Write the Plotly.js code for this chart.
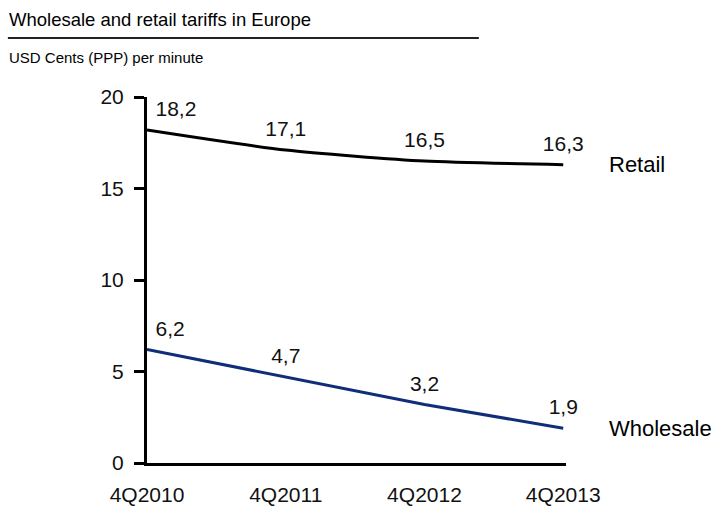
<!DOCTYPE html>
<html>
<head>
<meta charset="utf-8">
<script src="https://cdn.plot.ly/plotly-3.0.1.min.js"></script>
<style>html,body{margin:0;padding:0;background:#fff;}#chart{width:714px;height:508px;}</style>
</head>
<body>
<div id="chart"></div>
<script>
var categories = ['4Q2010', '4Q2011', '4Q2012', '4Q2013'];
var retail = [18.2, 17.1, 16.5, 16.3];
var wholesale = [6.2, 4.7, 3.2, 1.9];
var retailLabels = ['18,2', '17,1', '16,5', '16,3'];
var wholesaleLabels = ['6,2', '4,7', '3,2', '1,9'];
var seriesNames = ['Retail', 'Wholesale'];
var yTicks = [0, 5, 10, 15, 20];

var sans = 'Liberation Sans, Arial, sans-serif';
var numFont = {family: sans, size: 21, color: '#111'};
var labelPos = ['top right', 'top center', 'top center', 'top center'];

var traces = [
  {x: categories, y: retail, name: seriesNames[0], mode: 'lines+markers+text', text: retailLabels,
   textposition: labelPos, textfont: numFont, cliponaxis: false,
   marker: {size: 12, color: 'rgba(0,0,0,0)'},
   line: {color: '#000000', width: 3, shape: 'spline', smoothing: 0.6}, hoverinfo: 'skip'},
  {x: categories, y: wholesale, name: seriesNames[1], mode: 'lines+markers+text', text: wholesaleLabels,
   textposition: labelPos, textfont: numFont, cliponaxis: false,
   marker: {size: 12, color: 'rgba(0,0,0,0)'},
   line: {color: '#0f2d78', width: 3, shape: 'linear'}, hoverinfo: 'skip'}
];

var layout = {
  width: 714, height: 508,
  margin: {l: 147, r: 148, t: 97, b: 45},
  paper_bgcolor: '#ffffff', plot_bgcolor: '#ffffff',
  showlegend: false,
  font: numFont,
  xaxis: {
    type: 'category', range: [0, 3.02], showgrid: false, zeroline: false,
    showline: true, linecolor: '#000', linewidth: 3, ticks: '',
    tickfont: numFont, ticklabelstandoff: 11, fixedrange: true
  },
  yaxis: {
    range: [0, 20], tickvals: yTicks, showgrid: false, zeroline: false,
    showline: true, linecolor: '#000', linewidth: 3,
    ticks: 'outside', ticklen: 10, tickwidth: 3, tickcolor: '#000',
    tickfont: numFont, ticklabelstandoff: 6, fixedrange: true
  },
  shapes: [
    {type: 'line', xref: 'paper', yref: 'paper', x0: -0.332, x1: 0.792, y0: 1.161, y1: 1.161,
     line: {color: '#222', width: 2}}
  ],
  annotations: [
    {xref: 'paper', yref: 'paper', x: -0.334, y: 1.212, xanchor: 'left', yanchor: 'middle',
     text: 'Wholesale and retail tariffs in Europe', showarrow: false,
     font: {family: sans, size: 18.5, color: '#000'}},
    {xref: 'paper', yref: 'paper', x: -0.334, y: 1.109, xanchor: 'left', yanchor: 'middle',
     text: 'USD Cents (PPP) per minute', showarrow: false,
     font: {family: sans, size: 15, color: '#000'}},
    {x: categories[3], y: retail[3], xref: 'x', yref: 'y', xanchor: 'left', yanchor: 'middle',
     xshift: 44, text: seriesNames[0], showarrow: false,
     font: {family: sans, size: 22, color: '#000'}},
    {x: categories[3], y: wholesale[3], xref: 'x', yref: 'y', xanchor: 'left', yanchor: 'middle',
     xshift: 44, text: seriesNames[1], showarrow: false,
     font: {family: sans, size: 22, color: '#000'}}
  ]
};

Plotly.newPlot('chart', traces, layout, {displayModeBar: false, staticPlot: true});
</script>
</body>
</html>
